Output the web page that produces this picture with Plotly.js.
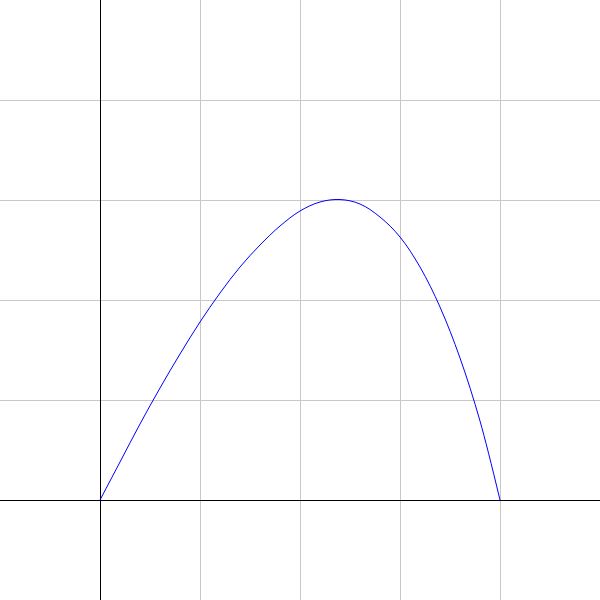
<!DOCTYPE html>
<html>
<head>
<meta charset="utf-8">
<script src="https://cdn.plot.ly/plotly-3.0.1.min.js"></script>
<style>html,body{margin:0;padding:0;background:#fff;}#chart{width:600px;height:600px;}</style>
</head>
<body>
<div id="chart"></div>
<script>
const xValues = [0, 0.2, 0.4, 0.6, 0.8, 1.0, 1.2, 1.4, 1.6, 1.8, 2.0, 2.2, 2.4, 2.6, 2.8, 3.0, 3.2, 3.4, 3.6, 3.8, 4.0];
const yValues = [0, 0.38, 0.76, 1.12, 1.46, 1.78, 2.07, 2.33, 2.55, 2.74, 2.89, 2.98, 3.005, 2.96, 2.83, 2.63, 2.33, 1.93, 1.42, 0.79, 0];

const trace = {
  x: xValues, y: yValues, type: 'scatter', mode: 'lines',
  line: {color: '#0000ff', width: 1, shape: 'spline', smoothing: 1},
  hoverinfo: 'skip'
};
const axisBase = {
  range: [-1, 5], dtick: 1, tick0: 0, showticklabels: false, ticks: '',
  showgrid: true, gridcolor: '#c8c8c8', gridwidth: 1,
  zeroline: true, zerolinecolor: '#000000', zerolinewidth: 1,
  showline: false, fixedrange: true
};
const layout = {
  width: 600, height: 600,
  margin: {l: 0, r: 0, t: 0, b: 0, pad: 0},
  paper_bgcolor: '#ffffff', plot_bgcolor: '#ffffff',
  showlegend: false,
  xaxis: Object.assign({}, axisBase),
  yaxis: Object.assign({}, axisBase)
};
Plotly.newPlot('chart', [trace], layout, {staticPlot: true, displayModeBar: false});
</script>
</body>
</html>
